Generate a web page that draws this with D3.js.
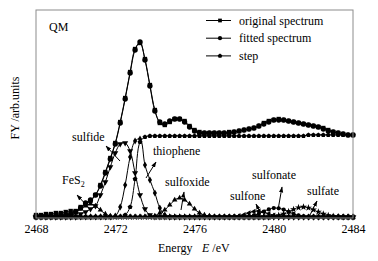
<!DOCTYPE html>
<html>
<head>
<meta charset="utf-8">
<script src="https://cdn.jsdelivr.net/npm/d3@7"></script>
<style>
  body { margin: 0; background: #fff; }
  text { font-family: "Liberation Serif", "Times New Roman", serif; fill: #000; }
</style>
</head>
<body>
<div id="chart"></div>
<script>
// energy grid (eV), one point every 0.25 eV
const energy = d3.range(0, 65).map(i => 2468 + i * 0.25);
const xTicks = [2468, 2472, 2476, 2480, 2484];

// intensities, arb. units
const original = [2,2,3,3,4,4,5,6,6,10,13,16,22,32,45,59,74,95,119,145,168,174,158,132,107,94,92,95,98,98,
  96,91,87,85,84,84,84,84,84,85,85,86,87,88,89,91,94,96,97,98,97,96,95,94,93,92,91,90,89,87,85,84,83,82,82];
const fitted = [1,1,1,1,1,2,2,3,5,9,14,17,22,31,44,58,73,94,118,144,167,175,157,131,106,95,93,96,98,98,
  95,90,86,84,84,84,84,84,84,84,85,86,87,88,89,91,93,95,97,97,97,96,95,94,93,92,91,90,88,86,85,84,83,82,82];
const step = [0,0,0,0,0,0,0,0,0,0,0,0,0,0,0,0,0,0,2,10,38,75,80,81,81,81,81,81,81,81,
  81,81,81,81,81,81,81,81,81,81,81,81,81,81,81,81,81,81,81,81,81,81,81,81,81,82,82,82,82,82,82,82,82,82,82];
const fes2 = [0,0,0,0,0,0,0,1,4,8,11,13,11,7,3,1,0,0,0,0,0,0,0,0,0,0,0,0,0,0,
  0,0,0,0,0,0,0,0,0,0,0,0,0,0,0,0,0,0,0,0,0,0,0,0,0,0,0,0,0,0,0,0,0,0,0];
const sulfide = [0,0,0,0,0,0,0,0,0,3,5,8,11,22,35,50,64,73,74,66,44,22,8,2,0,0,0,0,0,0,
  0,0,0,0,0,0,0,0,0,0,0,0,0,0,0,0,0,0,0,0,0,0,0,0,0,0,0,0,0,0,0,0,0,0,0];
const thiophene = [0,0,0,0,0,0,0,0,0,0,0,0,0,0,0,0,1,10,32,60,76,78,52,37,24,9,2,0,0,0,
  0,0,0,0,0,0,0,0,0,0,0,0,0,0,0,0,0,0,0,0,0,0,0,0,0,0,0,0,0,0,0,0,0,0,0];
const sulfoxide = [0,0,0,0,0,0,0,0,0,0,0,0,0,0,0,0,0,0,0,0,0,0,0,0,1,4,7,12,17,19,
  17,13,8,4,2,1,0,0,0,0,0,0,0,0,0,0,0,0,0,0,0,0,0,0,0,0,0,0,0,0,0,0,0,0,0];
const sulfone = [0,0,0,0,0,0,0,0,0,0,0,0,0,0,0,0,0,0,0,0,0,0,0,0,0,0,0,0,0,0,
  0,0,0,0,0,0,0,0,0,0,0.3,1,2.2,4,5.5,6,5,3.3,1.7,0.7,0.2,0,0,0,0,0,0,0,0,0,0,0,0,0,0];
const sulfonate = [0,0,0,0,0,0,0,0,0,0,0,0,0,0,0,0,0,0,0,0,0,0,0,0,0,0,0,0,0,0,
  0,0,0,0,0,0,0,0,0,0,0,0,0,0.7,1.7,3.3,5.5,7.6,8.9,8.7,7.4,5.2,3.1,1.6,0.7,0.2,0,0,0,0,0,0,0,0,0];
const sulfate = [0,0,0,0,0,0,0,0,0,0,0,0,0,0,0,0,0,0,0,0,0,0,0,0,0,0,0,0,0,0,
  0,0,0,0,0,0,0,0,0,0,0,0,0,0,0,0,0,0,0.8,1.7,3.2,5.4,7.6,9.4,10,9.2,7.3,5.1,3,1.6,0.7,0.3,0,0,0];

const width = 378, height = 261;
const margin = {top: 10, right: 25, bottom: 43, left: 36};

const svg = d3.select("#chart").append("svg")
  .attr("width", width).attr("height", height);

const x = d3.scaleLinear().domain([2468, 2484]).range([margin.left, width - margin.right]);
const y = d3.scaleLinear().domain([-1, 207]).range([height - margin.bottom, margin.top]);

// custom pentagon marker for the step curve
const symbolPentagon = {
  draw(ctx, size) {
    const r = Math.sqrt(size / 2.38);
    for (let k = 0; k < 5; k++) {
      const a = -Math.PI / 2 + k * 2 * Math.PI / 5;
      k ? ctx.lineTo(r * Math.cos(a), r * Math.sin(a)) : ctx.moveTo(r * Math.cos(a), r * Math.sin(a));
    }
    ctx.closePath();
  }
};

// components first, then the step and the two spectra on top
const series = [
  {values: sulfate,   sym: d3.symbolStar,     size: 16, rot: 0,   dash: "2,1.5"},
  {values: sulfonate, sym: d3.symbolCircle,   size: 14, rot: 0},
  {values: sulfone,   sym: d3.symbolTriangle, size: 13, rot: -90},
  {values: sulfoxide, sym: d3.symbolTriangle, size: 13, rot: 0},
  {values: fes2,      sym: d3.symbolTriangle, size: 13, rot: 0},
  {values: thiophene, sym: d3.symbolDiamond,  size: 15, rot: 0},
  {values: sulfide,   sym: d3.symbolTriangle, size: 16, rot: 180},
  {values: step,      sym: symbolPentagon,    size: 16, rot: 0},
  {values: fitted,    sym: d3.symbolCircle,   size: 22, rot: 0},
  {values: original,  sym: d3.symbolSquare,   size: 19, rot: 0}
];

const line = d3.line()
  .x((d, i) => x(energy[i]))
  .y(d => y(d))
  .curve(d3.curveCatmullRom);

const plot = svg.append("g");
series.forEach(s => {
  plot.append("path")
    .attr("d", line(s.values))
    .attr("fill", "none")
    .attr("stroke", "#000")
    .attr("stroke-width", 1)
    .attr("stroke-dasharray", s.dash || null);
  plot.append("g").selectAll("path")
    .data(s.values)
    .join("path")
    .attr("d", d3.symbol().type(s.sym).size(s.size))
    .attr("transform", (d, i) => `translate(${x(energy[i])},${y(d)}) rotate(${s.rot})`)
    .attr("fill", "#000");
});

// frame
svg.append("rect")
  .attr("x", margin.left).attr("y", margin.top)
  .attr("width", width - margin.left - margin.right)
  .attr("height", height - margin.bottom - margin.top)
  .attr("fill", "none").attr("stroke", "#8c8c8c").attr("stroke-width", 1);

// x axis labels only
const xAxis = svg.append("g")
  .attr("transform", `translate(0,${height - margin.bottom})`)
  .call(d3.axisBottom(x).tickValues(xTicks).tickFormat(d3.format("d")).tickSize(0).tickPadding(6.5));
xAxis.select(".domain").remove();
xAxis.selectAll("text").style("font-size", "12px").style("font-family", "Liberation Serif, serif").attr("fill", "#000");

// axis titles
const xt = svg.append("text").attr("x", 158).attr("y", 252).style("font-size", "12px");
xt.append("tspan").text("Energy");
xt.append("tspan").attr("x", 202).style("font-style", "italic").text("E");
xt.append("tspan").text(" /eV");

svg.append("text")
  .attr("transform", "translate(19,108) rotate(-90)")
  .attr("text-anchor", "middle")
  .style("font-size", "12px")
  .text("FY /arb.units");

svg.append("text").attr("x", 49).attr("y", 31).style("font-size", "12px").text("QM");

// legend
const legendItems = [
  {name: "original spectrum", sym: d3.symbolSquare, size: 14},
  {name: "fitted spectrum", sym: d3.symbolCircle, size: 14},
  {name: "step", sym: symbolPentagon, size: 14}
];
const legend = svg.append("g");
legendItems.forEach((d, i) => {
  const ly = 20.5 + i * 17.7;
  legend.append("line").attr("x1", 206).attr("x2", 231).attr("y1", ly).attr("y2", ly)
    .attr("stroke", "#000").attr("stroke-width", 1);
  legend.append("path").attr("d", d3.symbol().type(d.sym).size(d.size))
    .attr("transform", `translate(220,${ly})`).attr("fill", "#000");
  legend.append("text").attr("x", 239).attr("y", ly + 4).style("font-size", "12px").text(d.name);
});

// component labels with arrows (pixel layout)
svg.append("defs").append("marker")
  .attr("id", "head").attr("viewBox", "0 0 10 10")
  .attr("refX", 9).attr("refY", 5)
  .attr("markerWidth", 6).attr("markerHeight", 6)
  .attr("orient", "auto")
  .append("path").attr("d", "M0,1.5 L10,5 L0,8.5 Z").attr("fill", "#000");

const notes = [
  {text: "sulfide",   tx: 72,  ty: 141, a: [120, 161, 106, 146]},
  {text: "FeS",       tx: 62,  ty: 184, a: [90, 209, 77, 195], sub: "2"},
  {text: "thiophene", tx: 153, ty: 155, a: [146, 178, 156, 162]},
  {text: "sulfoxide", tx: 165, ty: 186, a: [181, 210, 184, 192]},
  {text: "sulfone",   tx: 230, ty: 200, a: [260, 212, 256, 204]},
  {text: "sulfonate", tx: 252, ty: 179, a: [278, 210, 282, 187]},
  {text: "sulfate",   tx: 307, ty: 195, a: [310, 215, 317, 201]}
];
notes.forEach(n => {
  const t = svg.append("text").attr("x", n.tx).attr("y", n.ty).style("font-size", "12px").text(n.text);
  if (n.sub) t.append("tspan").attr("dy", 3).style("font-size", "8px").text(n.sub);
  svg.append("line")
    .attr("x1", n.a[0]).attr("y1", n.a[1]).attr("x2", n.a[2]).attr("y2", n.a[3])
    .attr("stroke", "#000").attr("stroke-width", 1)
    .attr("marker-end", "url(#head)");
});
</script>
</body>
</html>
